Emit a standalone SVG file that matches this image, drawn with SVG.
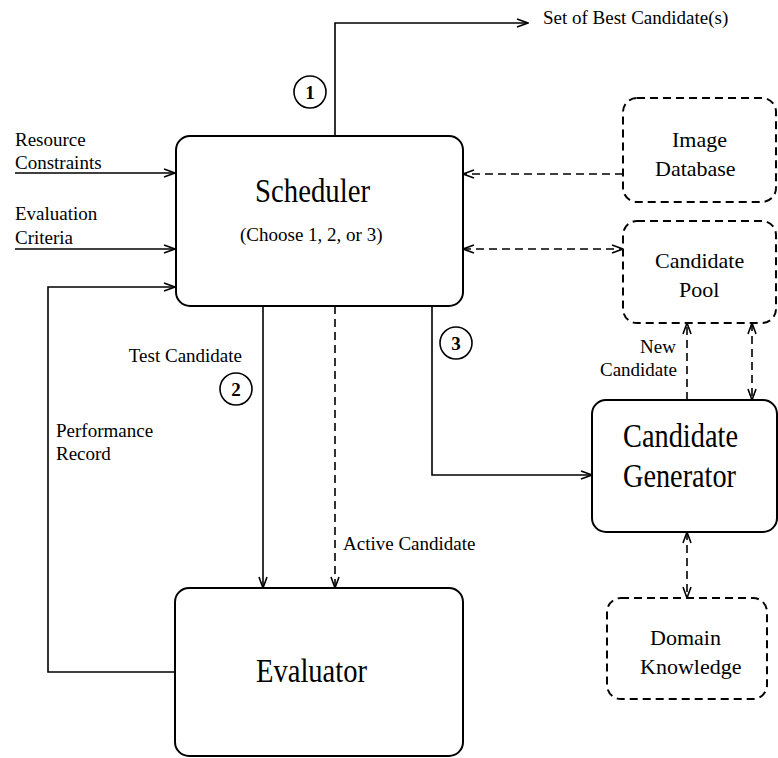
<svg xmlns="http://www.w3.org/2000/svg" width="778" height="758" viewBox="0 0 778 758">
<style>
text{font-family:"Liberation Serif","Times New Roman",serif;fill:#000}
.lbl{font-size:19px}
.nd{font-size:22px}
.big{font-size:34px}
.box{fill:#fff;stroke:#000;stroke-width:2}
.dbox{fill:#fff;stroke:#000;stroke-width:2;stroke-dasharray:8 5}
.ln{fill:none;stroke:#000;stroke-width:1.6}
.dl{fill:none;stroke:#000;stroke-width:1.6;stroke-dasharray:8 5}
.circ{fill:#fff;stroke:#000;stroke-width:1.6}
.num{font-size:19px;font-weight:bold;text-anchor:middle}
</style>
<defs>
<marker id="ah" markerUnits="userSpaceOnUse" markerWidth="13" markerHeight="10" viewBox="0 0 13 10" refX="12" refY="5" orient="auto-start-reverse">
<path d="M1,1 L12,5 L1,9" fill="none" stroke="#000" stroke-width="1.6" stroke-dasharray="none"/>
</marker>
</defs>
<g id="connectors">
<path class="ln" d="M335,136 V23 H528" marker-end="url(#ah)"/>
<path class="ln" d="M15,173 H175" marker-end="url(#ah)"/>
<path class="ln" d="M15,249 H175" marker-end="url(#ah)"/>
<path class="ln" d="M175,672 H48 V287 H175" marker-end="url(#ah)"/>
<path class="ln" d="M263,306 V588" marker-end="url(#ah)"/>
<path class="dl" d="M335,306 V588" marker-end="url(#ah)"/>
<path class="ln" d="M432,306 V475 H592" marker-end="url(#ah)"/>
<path class="dl" d="M623,174 H463" marker-end="url(#ah)"/>
<path class="dl" d="M463,249 H623" marker-start="url(#ah)" marker-end="url(#ah)"/>
<path class="dl" d="M687,400 V323" marker-end="url(#ah)"/>
<path class="dl" d="M752,323 V400" marker-start="url(#ah)" marker-end="url(#ah)"/>
<path class="dl" d="M687,532 V598" marker-start="url(#ah)" marker-end="url(#ah)"/>
</g>
<g id="scheduler">
<rect class="box" x="176" y="136" width="287" height="170" rx="14"/>
<text class="big" x="255" y="202" textLength="115" lengthAdjust="spacingAndGlyphs">Scheduler</text>
<text class="lbl" x="240" y="241">(Choose 1, 2, or 3)</text>
</g>
<g id="evaluator">
<rect class="box" x="175" y="588" width="288" height="168" rx="14"/>
<text class="big" x="256" y="682" textLength="111" lengthAdjust="spacingAndGlyphs">Evaluator</text>
</g>
<g id="image-database">
<rect class="dbox" x="623" y="98" width="153" height="104" rx="14"/>
<text class="nd" x="672" y="147">Image</text>
<text class="nd" x="655" y="176">Database</text>
</g>
<g id="candidate-pool">
<rect class="dbox" x="623" y="221" width="153" height="102" rx="14"/>
<text class="nd" x="655" y="268">Candidate</text>
<text class="nd" x="679" y="297">Pool</text>
</g>
<g id="candidate-generator">
<rect class="box" x="592" y="400" width="185" height="132" rx="14"/>
<text class="big" x="623" y="447" textLength="115" lengthAdjust="spacingAndGlyphs">Candidate</text>
<text class="big" x="623" y="487" textLength="113" lengthAdjust="spacingAndGlyphs">Generator</text>
</g>
<g id="domain-knowledge">
<rect class="dbox" x="607" y="598" width="160" height="101" rx="14"/>
<text class="nd" x="650" y="645">Domain</text>
<text class="nd" x="640" y="674">Knowledge</text>
</g>
<g id="labels">
<text class="lbl" x="543" y="24">Set of Best Candidate(s)</text>
<text class="lbl" x="15" y="146">Resource</text>
<text class="lbl" x="15" y="169">Constraints</text>
<text class="lbl" x="15" y="220">Evaluation</text>
<text class="lbl" x="15" y="244">Criteria</text>
<text class="lbl" x="242" y="362" text-anchor="end">Test Candidate</text>
<text class="lbl" x="56" y="437">Performance</text>
<text class="lbl" x="56" y="460">Record</text>
<text class="lbl" x="343" y="550">Active Candidate</text>
<text class="lbl" x="676" y="353" text-anchor="end">New</text>
<text class="lbl" x="677" y="376" text-anchor="end">Candidate</text>
</g>
<g id="step-1"><circle class="circ" cx="310" cy="92" r="16"/><text class="num" x="310" y="99">1</text></g>
<g id="step-2"><circle class="circ" cx="236" cy="389" r="16"/><text class="num" x="236" y="396">2</text></g>
<g id="step-3"><circle class="circ" cx="456" cy="343" r="16"/><text class="num" x="456" y="350">3</text></g>
</svg>
